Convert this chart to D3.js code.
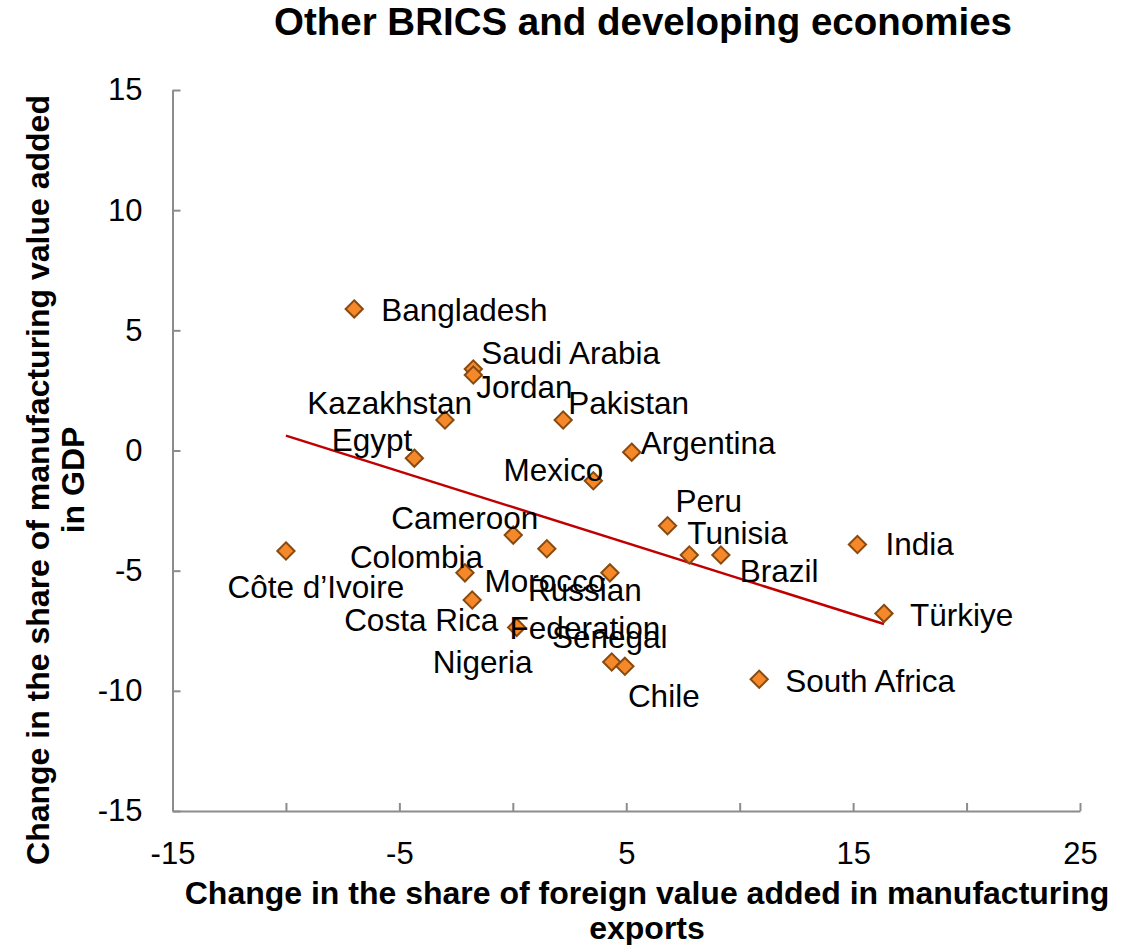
<!DOCTYPE html>
<html>
<head>
<meta charset="utf-8">
<script src="https://cdn.jsdelivr.net/npm/d3@7"></script>
<style>
body { margin: 0; background: #fff; }
svg text { font-family: "Liberation Sans", Arial, sans-serif; fill: #000; }
</style>
</head>
<body>
<div id="gbody"></div>
<script>
// datos
var countries = ["Bangladesh", "Saudi Arabia", "Jordan", "Kazakhstan", "Pakistan", "Egypt",
    "Argentina", "Mexico", "Peru", "Tunisia", "Brazil", "India", "Türkiye", "South Africa",
    "Senegal", "Chile", "Cameroon", "Morocco", "Colombia", "Costa Rica", "Russian Federation",
    "Nigeria", "Côte d’Ivoire"];
var foreignVA = [-6.99, -1.74, -1.74, -2.99, 2.22, -4.34, 5.24, 3.55, 6.82, 7.78, 9.17, 15.19,
    16.36, 10.86, 4.36, 4.94, 0.02, 1.50, -2.11, -1.79, 4.28, 0.17, -10.0];
var manufVA = [5.89, 3.39, 3.14, 1.27, 1.27, -0.32, -0.07, -1.26, -3.13, -4.35, -4.35, -3.91,
    -6.78, -9.52, -8.80, -8.98, -3.52, -4.09, -5.09, -6.22, -5.09, -7.36, -4.18];

// linea de tendencia (extremos)
var trendX = [-10.0, 16.36];
var trendY = [0.62, -7.22];

var xTicks = [-15, -10, -5, 0, 5, 10, 15, 20, 25];
var xTickLabels = [-15, -5, 5, 15, 25];
var yTicks = [-15, -10, -5, 0, 5, 10, 15];

// posicion de etiquetas (px respecto al punto)
var labelPos = {
    "Bangladesh": ["start", 27, 1],
    "Saudi Arabia": ["start", 8, -16],
    "Jordan": ["start", 3, 12],
    "Kazakhstan": ["end", 27, -17],
    "Pakistan": ["start", 5, -17],
    "Egypt": ["end", -2, -18],
    "Argentina": ["start", 9, -9],
    "Mexico": ["end", 10, -11],
    "Peru": ["start", 8, -25],
    "Tunisia": ["start", -2, -22],
    "Brazil": ["start", 19, 16],
    "India": ["start", 28, 0],
    "Türkiye": ["start", 26, 2],
    "South Africa": ["start", 26, 2],
    "Senegal": ["middle", -2, -25],
    "Chile": ["start", 3, 30],
    "Cameroon": ["end", 25, -17],
    "Morocco": ["middle", -2, 32],
    "Colombia": ["end", 18, -16],
    "Costa Rica": ["end", 26, 20],
    "Russian Federation": ["middle", -25, 17],
    "Nigeria": ["middle", -34, 35],
    "Côte d’Ivoire": ["middle", 30, 36]
};

var width = 1137;
var height = 945;
var axisColor = "#8c8c8c";

var x = d3.scaleLinear().domain([-15, 25]).range([172.5, 1080]);
var y = d3.scaleLinear().domain([-15, 15]).range([811, 90]);

var svg = d3.select("#gbody").append("svg")
    .attr("width", width)
    .attr("height", height);

svg.append("text")
    .attr("x", 643)
    .attr("y", 22)
    .attr("dy", "0.35em")
    .attr("text-anchor", "middle")
    .style("font-size", "38.5px")
    .style("font-weight", "bold")
    .text("Other BRICS and developing economies");

// ejes
var xAxis = d3.axisBottom(x)
    .tickValues(xTicks)
    .tickSizeInner(-8)
    .tickSizeOuter(0)
    .tickPadding(31)
    .tickFormat(function(d){ return xTickLabels.indexOf(d) >= 0 ? String(d) : ""; });

var yAxis = d3.axisLeft(y)
    .tickValues(yTicks)
    .tickSizeInner(-8)
    .tickSizeOuter(0)
    .tickPadding(30)
    .tickFormat(function(d){ return String(d); });

var gx = svg.append("g")
    .attr("transform", "translate(0," + y(-15) + ")")
    .call(xAxis);

var gy = svg.append("g")
    .attr("transform", "translate(" + x(-15) + ",0)")
    .call(yAxis);

[gx, gy].forEach(function(g){
    g.select(".domain").attr("stroke", axisColor).attr("stroke-width", 2);
    g.selectAll(".tick line").attr("stroke", axisColor).attr("stroke-width", 2);
    g.selectAll(".tick text")
        .style("font-size", "31px")
        .style("font-family", "'Liberation Sans', Arial, sans-serif")
        .attr("fill", "#000");
});

// titulos de ejes
var xTitle = svg.append("text")
    .attr("text-anchor", "middle")
    .style("font-size", "32px")
    .style("font-weight", "bold");
xTitle.append("tspan").attr("x", 647).attr("y", 904)
    .text("Change in the share of foreign value added in manufacturing");
xTitle.append("tspan").attr("x", 647).attr("y", 939)
    .text("exports");

var yTitle = svg.append("text")
    .attr("text-anchor", "middle")
    .attr("transform", "rotate(-90)")
    .style("font-size", "32px")
    .style("font-weight", "bold");
yTitle.append("tspan").attr("x", -480).attr("y", 49)
    .text("Change in the share of manufacturing value added");
yTitle.append("tspan").attr("x", -480).attr("y", 84)
    .text("in GDP");

// linea de tendencia
svg.append("line")
    .attr("x1", x(trendX[0]))
    .attr("y1", y(trendY[0]))
    .attr("x2", x(trendX[1]))
    .attr("y2", y(trendY[1]))
    .attr("stroke", "#c00000")
    .attr("stroke-width", 2.5);

var points = countries.map(function(c, i){
    return {name: c, fx: foreignVA[i], my: manufVA[i]};
});

// puntos
var diamond = d3.symbol().type(d3.symbolDiamond2).size(190);
svg.append("g").selectAll("path")
    .data(points)
    .enter().append("path")
    .attr("d", diamond)
    .attr("transform", function(d){ return "translate(" + x(d.fx) + "," + y(d.my) + ")"; })
    .attr("fill", "#f5892a")
    .attr("stroke", "#8a4a0f")
    .attr("stroke-width", 2);

// etiquetas
var labels = svg.append("g").selectAll("text")
    .data(points)
    .enter().append("text")
    .attr("text-anchor", function(d){ return labelPos[d.name][0]; })
    .style("font-size", "31.5px");

labels.each(function(d){
    var p = labelPos[d.name];
    var parts = d.name == "Russian Federation" ? ["Russian", "Federation"] : [d.name];
    var t = d3.select(this);
    parts.forEach(function(s, k){
        t.append("tspan")
            .attr("x", x(d.fx) + p[1])
            .attr("y", y(d.my) + p[2] + k * 38)
            .attr("dy", "0.35em")
            .text(s);
    });
});
</script>
</body>
</html>
